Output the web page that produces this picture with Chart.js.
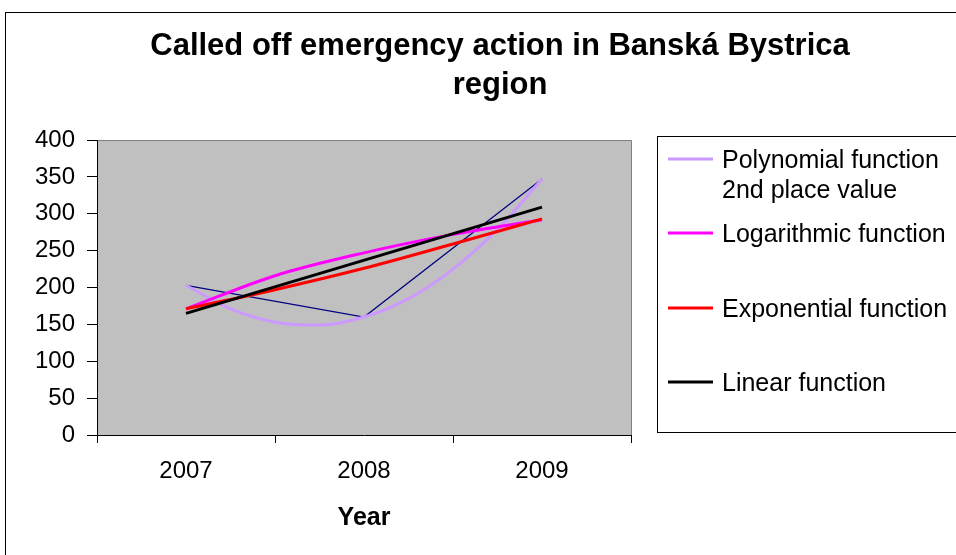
<!DOCTYPE html>
<html>
<head>
<meta charset="utf-8">
<script src="https://cdn.jsdelivr.net/npm/chart.js@4.4.1/dist/chart.umd.min.js"></script>
<style>
	html, body { margin: 0; padding: 0; background: #fff; }
	#wrap { width: 956px; height: 555px; }
</style>
</head>
<body>
<div id="wrap"><canvas id="chart"></canvas></div>
<script>
var years = ["2007", "2008", "2009"];
var actual = [203, 160, 347];

// trend lines
var polyX = [0, 0.25, 0.5, 0.75, 1, 1.25, 1.5, 1.75, 2];
var polynomial = [203, 171, 153, 149, 160, 185, 225, 279, 347];
var curveX = [0, 0.5, 1, 1.5, 2];
var logarithmic = [171, 216, 247, 272, 292];
var exponential = [171, 197, 226, 259, 293];
var linearX = [0, 2];
var linear = [165, 309];

var titleLines = ["Called off emergency action in Banská Bystrica", "region"];
var legendLabels = [["Polynomial function", "2nd place value"], ["Logarithmic function"], ["Exponential function"], ["Linear function"]];

var FONT = "'Liberation Sans', Arial, sans-serif";

function pts(xs, ys) {
	return ys.map((y, i) => ({ x: xs[i], y: y }));
}

// grey plot area, outer frame, title and the boxed legend
var frame = {
	id: "frame",
	beforeDraw(chart) {
		let ctx = chart.ctx, a = chart.chartArea;
		ctx.save();
		ctx.fillStyle = "#c0c0c0";
		ctx.fillRect(a.left, a.top, a.right - a.left, a.bottom - a.top);
		ctx.strokeStyle = "#808080";
		ctx.lineWidth = 1;
		ctx.beginPath();
		ctx.moveTo(a.left, a.top + 0.5);
		ctx.lineTo(a.right + 0.5, a.top + 0.5);
		ctx.lineTo(a.right + 0.5, a.bottom);
		ctx.stroke();
		ctx.strokeStyle = "#000";
		ctx.strokeRect(5.5, 12.5, 1000, 600);
		ctx.restore();
	},
	afterDraw(chart) {
		let ctx = chart.ctx;
		ctx.save();
		ctx.fillStyle = "#000";
		ctx.textAlign = "center";
		ctx.textBaseline = "alphabetic";
		ctx.font = "bold 31px " + FONT;
		ctx.fillText(titleLines[0], 500, 55);
		ctx.fillText(titleLines[1], 500, 94);

		// legend box
		ctx.strokeStyle = "#000";
		ctx.lineWidth = 1;
		ctx.strokeRect(657.5, 136.5, 400, 296);
		let rows = [159, 233, 308, 382];
		let sets = chart.data.datasets.slice(1);
		ctx.textAlign = "left";
		ctx.font = "25px " + FONT;
		rows.forEach((y, i) => {
			ctx.strokeStyle = sets[i].borderColor;
			ctx.lineWidth = 3;
			ctx.beginPath();
			ctx.moveTo(668, y);
			ctx.lineTo(713, y);
			ctx.stroke();
			legendLabels[i].forEach((t, j) => {
				ctx.fillText(t, 722, y + 9 + j * 30);
			});
		});
		ctx.restore();
	}
};

new Chart(document.getElementById("chart"), {
	type: "line",
	data: {
		datasets: [
			{
				label: "Called off emergency action",
				data: pts([0, 1, 2], actual),
				borderColor: "#000080",
				borderWidth: 1.2,
				pointRadius: 0,
				order: 5
			},
			{
				label: "Polynomial function 2nd place value",
				data: pts(polyX, polynomial),
				borderColor: "#cc99ff",
				borderWidth: 3,
				pointRadius: 0,
				cubicInterpolationMode: "monotone",
				order: 4
			},
			{
				label: "Logarithmic function",
				data: pts(curveX, logarithmic),
				borderColor: "#ff00ff",
				borderWidth: 3,
				pointRadius: 0,
				cubicInterpolationMode: "monotone",
				order: 3
			},
			{
				label: "Exponential function",
				data: pts(curveX, exponential),
				borderColor: "#ff0000",
				borderWidth: 3,
				pointRadius: 0,
				cubicInterpolationMode: "monotone",
				order: 2
			},
			{
				label: "Linear function",
				data: pts(linearX, linear),
				borderColor: "#000000",
				borderWidth: 3,
				pointRadius: 0,
				order: 1
			}
		]
	},
	options: {
		responsive: true,
		maintainAspectRatio: false,
		animation: false,
		devicePixelRatio: 1,
		layout: { padding: { top: 140, right: 325, left: 0, bottom: 0 } },
		plugins: {
			legend: { display: false },
			title: { display: false },
			tooltip: { enabled: false }
		},
		scales: {
			x: {
				type: "linear",
				min: -0.5,
				max: 2.5,
				afterBuildTicks(scale) {
					scale.ticks = [-0.5, 0, 0.5, 1, 1.5, 2, 2.5].map(v => ({ value: v }));
				},
				afterFit(scale) { scale.height = 120; },
				border: { color: "#000", width: 1 },
				grid: {
					drawOnChartArea: false,
					tickLength: 8,
					color: (c) => (c.tick && Number.isInteger(c.tick.value)) ? "rgba(0,0,0,0)" : "#000"
				},
				ticks: {
					autoSkip: false,
					maxRotation: 0,
					padding: 14,
					color: "#000",
					font: { family: FONT, size: 24 },
					callback: (v) => Number.isInteger(v) ? years[v] : ""
				},
				title: {
					display: true,
					text: "Year",
					color: "#000",
					font: { family: FONT, size: 25, weight: "bold" },
					padding: { top: 18, bottom: 22 }
				}
			},
			y: {
				min: 0,
				max: 400,
				afterFit(scale) { scale.width = 97; },
				border: { color: "#000", width: 1 },
				grid: { drawOnChartArea: false, tickLength: 10, color: "#000" },
				ticks: {
					stepSize: 50,
					padding: 12,
					color: "#000",
					font: { family: FONT, size: 24 }
				}
			}
		}
	},
	plugins: [frame]
});
</script>
</body>
</html>
